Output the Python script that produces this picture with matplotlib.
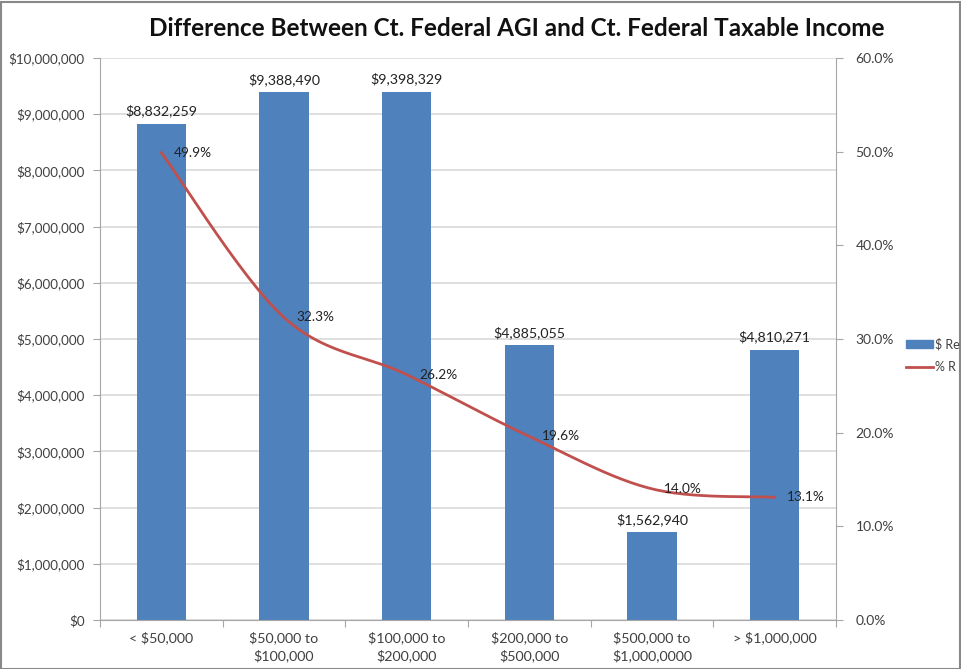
import numpy as np
import matplotlib
matplotlib.use("Agg")
import matplotlib.pyplot as plt
from matplotlib.patches import Rectangle
from matplotlib.ticker import FuncFormatter, MultipleLocator

plt.rcParams['font.family'] = ['Lato', 'DejaVu Sans']

# data
categories = ["< $50,000", "$50,000 to\n$100,000", "$100,000 to\n$200,000",
              "$200,000 to\n$500,000", "$500,000 to\n$1,000,0000", "> $1,000,000"]
dollar_reduction = [8832259, 9388490, 9398329, 4885055, 1562940, 4810271]
pct_reduction = [49.9, 32.3, 26.2, 19.6, 14.0, 13.1]
# legend labels as far as the original picture shows them (cut by its edge)
legend_labels = ["$ Re", "% R"]


def catmull_rom(x, y, n=30):
    # Excel-style smoothed line through the points
    x = np.asarray(x, float)
    y = np.asarray(y, float)
    px = np.concatenate([[x[0]], x, [x[-1]]])
    py = np.concatenate([[y[0]], y, [y[-1]]])
    xs, ys = [], []
    t = np.linspace(0, 1, n)
    for i in range(1, len(px) - 2):
        p0, p1, p2, p3 = [np.array([px[j], py[j]]) for j in (i - 1, i, i + 1, i + 2)]
        c1 = p1 + (p2 - p0) / 6
        c2 = p2 - (p3 - p1) / 6
        b = ((1 - t) ** 3)[:, None] * p1 + (3 * (1 - t) ** 2 * t)[:, None] * c1 \
            + (3 * (1 - t) * t ** 2)[:, None] * c2 + (t ** 3)[:, None] * p2
        xs.append(b[:, 0])
        ys.append(b[:, 1])
    return np.concatenate(xs), np.concatenate(ys)


fig = plt.figure(figsize=(9.61, 6.69), dpi=100)
ax = fig.add_axes([100 / 961, 49 / 669, 736 / 961, 562 / 669])
ax2 = ax.twinx()

x = np.arange(len(categories))
bar_color = '#4F81BD'
line_color = '#C0504D'
text_color = '#404040'
grid_color = '#D9D9D9'
axis_color = '#A6A6A6'

ax.bar(x, dollar_reduction, width=0.4, color=bar_color, zorder=2)
for xi, v in zip(x, dollar_reduction):
    ax.text(xi, v + 110000, f"${v:,.0f}", ha='center', va='bottom', fontsize=10.2, color='#222222')

ax.set_xlim(-0.5, len(categories) - 0.5)
ax.set_ylim(0, 10000000)
ax.yaxis.set_major_locator(MultipleLocator(1000000))
ax.yaxis.set_major_formatter(FuncFormatter(lambda v, p: f"${v:,.0f}"))
ax.yaxis.grid(True, color=grid_color, linewidth=1.2, zorder=0)
ax.set_axisbelow(True)

ax.set_xticks(np.arange(-0.5, len(categories), 1.0), minor=False)
ax.set_xticklabels([])
ax.set_xticks(x, minor=True)
ax.set_xticklabels(categories, minor=True, fontsize=10.3, color=text_color, linespacing=1.45)
ax.tick_params(axis='x', which='minor', length=0, pad=8)
ax.tick_params(axis='x', which='major', length=5, color=axis_color)
ax.tick_params(axis='y', length=5, color=axis_color, labelsize=9.6, labelcolor=text_color, pad=6)

sx, sy = catmull_rom(x, pct_reduction)
ax2.plot(sx, sy, color=line_color, linewidth=2, zorder=3)
for xi, v in zip(x, pct_reduction):
    ax2.text(xi + 0.1, v, f"{v:.1f}%", ha='left', va='center', fontsize=9.8, color='#222222')
ax2.set_ylim(0, 60)
ax2.yaxis.set_major_locator(MultipleLocator(10))
ax2.yaxis.set_major_formatter(FuncFormatter(lambda v, p: f"{v:.1f}%"))
ax2.tick_params(axis='y', length=5, color=axis_color, labelsize=10, labelcolor=text_color, pad=9)

for a in (ax, ax2):
    for s in ('top', 'right', 'left', 'bottom'):
        a.spines[s].set_visible(False)
ax.spines['left'].set_visible(True)
ax.spines['left'].set_color(axis_color)
ax.spines['bottom'].set_visible(True)
ax.spines['bottom'].set_color(axis_color)
ax2.spines['right'].set_visible(True)
ax2.spines['right'].set_color(axis_color)

# legend at the right edge
fig.patches.append(Rectangle((906 / 961, 1 - 348 / 669), 27 / 961, 8 / 669,
                             transform=fig.transFigure, color=bar_color))
fig.text(935 / 961, 1 - 344 / 669, legend_labels[0], fontsize=9, color=text_color, va='center')
fig.lines.append(plt.Line2D([906 / 961, 933 / 961], [1 - 367 / 669, 1 - 367 / 669],
                            transform=fig.transFigure, color=line_color, linewidth=2))
fig.text(935 / 961, 1 - 367 / 669, legend_labels[1], fontsize=9, color=text_color, va='center')

fig.text(517 / 961, 1 - 28 / 669, "Difference Between Ct. Federal AGI and Ct. Federal Taxable Income",
         ha='center', va='center', fontsize=17.5, fontweight='bold', color='#111111')

fig.patches.append(Rectangle((0.5 / 961, 0.5 / 669), 959 / 961, 667 / 669, transform=fig.transFigure,
                             fill=False, edgecolor='#888888', linewidth=1.5))

fig.savefig("out.png", dpi=100)
